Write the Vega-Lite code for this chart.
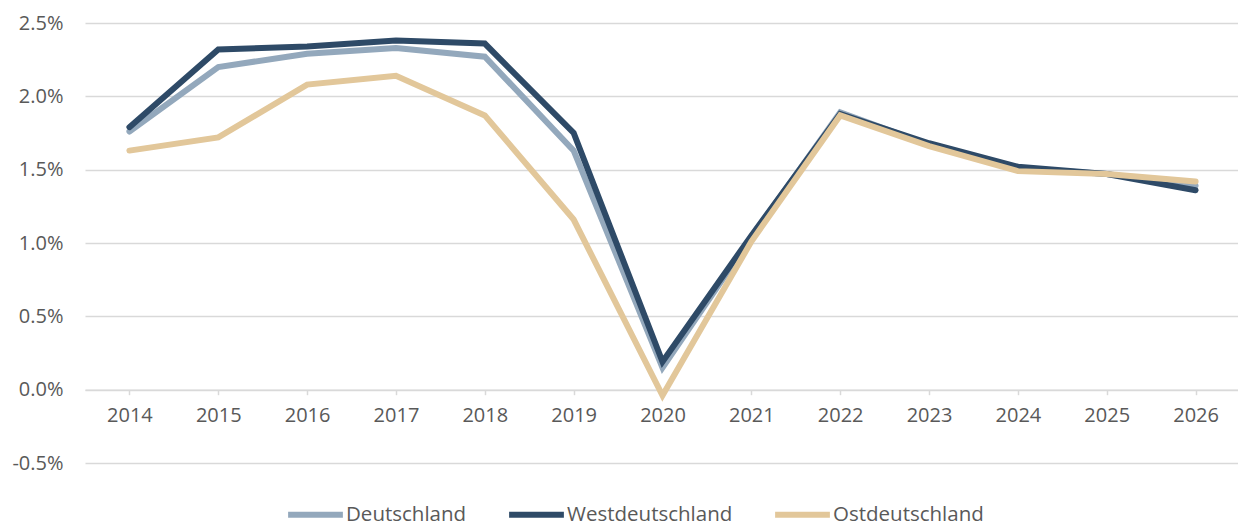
{
  "$schema": "https://vega.github.io/schema/vega-lite/v6.json",
  "width": 1155,
  "height": 440,
  "autosize": {"type": "none"},
  "padding": {"left": 85, "top": 23, "right": 0, "bottom": 59},
  "background": "white",
  "config": {
    "view": {"stroke": null},
    "font": "Open Sans"
  },
  "data": {
    "values": [
      {"jahr": "2014", "region": "Deutschland", "wert": 1.76},
      {"jahr": "2015", "region": "Deutschland", "wert": 2.20},
      {"jahr": "2016", "region": "Deutschland", "wert": 2.29},
      {"jahr": "2017", "region": "Deutschland", "wert": 2.33},
      {"jahr": "2018", "region": "Deutschland", "wert": 2.27},
      {"jahr": "2019", "region": "Deutschland", "wert": 1.63},
      {"jahr": "2020", "region": "Deutschland", "wert": 0.15},
      {"jahr": "2021", "region": "Deutschland", "wert": 1.04},
      {"jahr": "2022", "region": "Deutschland", "wert": 1.89},
      {"jahr": "2023", "region": "Deutschland", "wert": 1.67},
      {"jahr": "2024", "region": "Deutschland", "wert": 1.51},
      {"jahr": "2025", "region": "Deutschland", "wert": 1.47},
      {"jahr": "2026", "region": "Deutschland", "wert": 1.39},
      {"jahr": "2014", "region": "Westdeutschland", "wert": 1.79},
      {"jahr": "2015", "region": "Westdeutschland", "wert": 2.32},
      {"jahr": "2016", "region": "Westdeutschland", "wert": 2.34},
      {"jahr": "2017", "region": "Westdeutschland", "wert": 2.38},
      {"jahr": "2018", "region": "Westdeutschland", "wert": 2.36},
      {"jahr": "2019", "region": "Westdeutschland", "wert": 1.75},
      {"jahr": "2020", "region": "Westdeutschland", "wert": 0.19},
      {"jahr": "2021", "region": "Westdeutschland", "wert": 1.05},
      {"jahr": "2022", "region": "Westdeutschland", "wert": 1.88},
      {"jahr": "2023", "region": "Westdeutschland", "wert": 1.68},
      {"jahr": "2024", "region": "Westdeutschland", "wert": 1.52},
      {"jahr": "2025", "region": "Westdeutschland", "wert": 1.47},
      {"jahr": "2026", "region": "Westdeutschland", "wert": 1.36},
      {"jahr": "2014", "region": "Ostdeutschland", "wert": 1.63},
      {"jahr": "2015", "region": "Ostdeutschland", "wert": 1.72},
      {"jahr": "2016", "region": "Ostdeutschland", "wert": 2.08},
      {"jahr": "2017", "region": "Ostdeutschland", "wert": 2.14},
      {"jahr": "2018", "region": "Ostdeutschland", "wert": 1.87},
      {"jahr": "2019", "region": "Ostdeutschland", "wert": 1.16},
      {"jahr": "2020", "region": "Ostdeutschland", "wert": -0.04},
      {"jahr": "2021", "region": "Ostdeutschland", "wert": 1.01},
      {"jahr": "2022", "region": "Ostdeutschland", "wert": 1.87},
      {"jahr": "2023", "region": "Ostdeutschland", "wert": 1.66},
      {"jahr": "2024", "region": "Ostdeutschland", "wert": 1.49},
      {"jahr": "2025", "region": "Ostdeutschland", "wert": 1.47},
      {"jahr": "2026", "region": "Ostdeutschland", "wert": 1.42}
    ]
  },
  "mark": {"type": "line", "strokeWidth": 6, "strokeCap": "round"},
  "encoding": {
    "x": {
      "field": "jahr",
      "type": "ordinal",
      "scale": {"type": "point", "padding": 0.5},
      "axis": {
        "title": null,
        "offset": -73.3,
        "labelAngle": 0,
        "labelFont": "Open Sans",
        "labelFontSize": 20,
        "labelColor": "#595959",
        "labelPadding": 11,
        "domainColor": "#D9D9D9",
        "domainWidth": 1.5,
        "tickColor": "#D9D9D9",
        "tickWidth": 1.5,
        "tickSize": 5,
        "grid": false
      }
    },
    "y": {
      "field": "wert",
      "type": "quantitative",
      "scale": {"domain": [-0.5, 2.5], "nice": false, "zero": false},
      "axis": {
        "title": null,
        "values": [-0.5, 0, 0.5, 1, 1.5, 2, 2.5],
        "labelExpr": "(datum.value < 0 ? '-' : '') + format(abs(datum.value), '.1f') + '%'",
        "labelFont": "Open Sans",
        "labelFontSize": 20,
        "labelColor": "#595959",
        "labelPadding": 22,
        "ticks": false,
        "domain": false,
        "grid": true,
        "gridColor": "#D9D9D9",
        "gridWidth": 1.5
      }
    },
    "color": {
      "field": "region",
      "type": "nominal",
      "scale": {
        "domain": ["Deutschland", "Westdeutschland", "Ostdeutschland"],
        "range": ["#93A8BC", "#2E4A67", "#E2C79A"]
      },
      "legend": {
        "title": null,
        "orient": "none",
        "direction": "horizontal",
        "legendX": 200,
        "legendY": 461,
        "padding": 0,
        "symbolType": "stroke",
        "symbolSize": 3000,
        "symbolStrokeWidth": 6,
        "labelFont": "Open Sans",
        "labelFontSize": 20.5,
        "labelColor": "#595959",
        "labelOffset": 0,
        "labelLimit": 400,
        "columnPadding": 30
      }
    }
  }
}
